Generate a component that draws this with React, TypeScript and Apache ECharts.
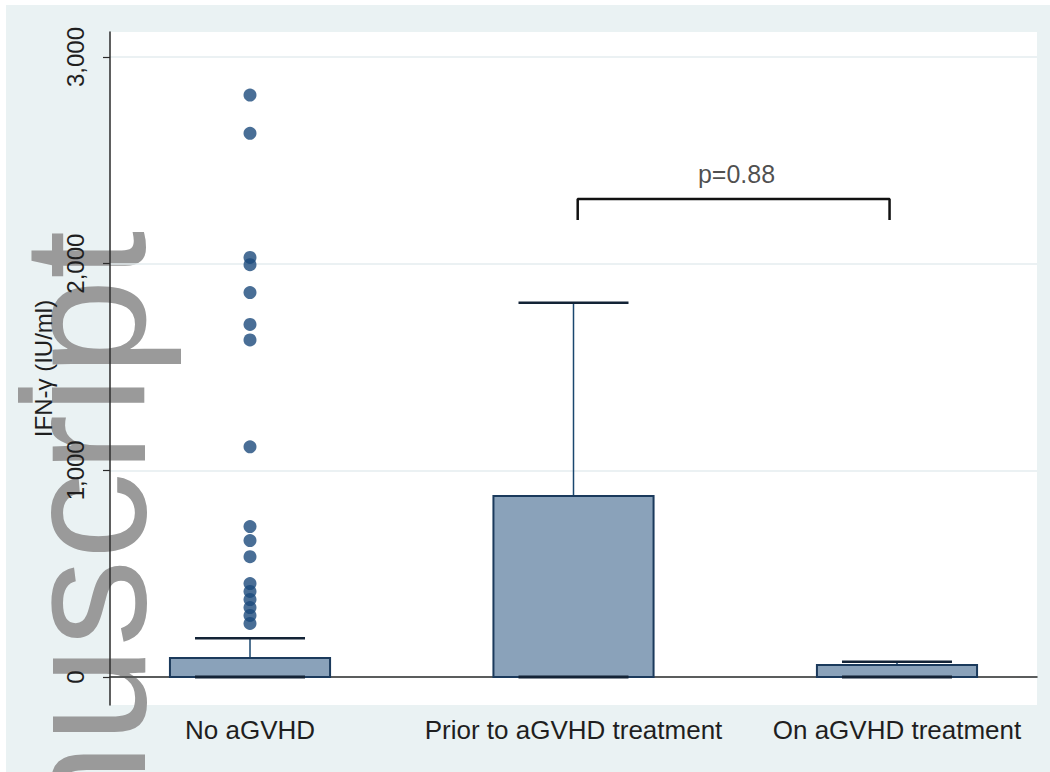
import React, { useEffect, useRef } from "react";
import * as echarts from "echarts";

const categories = ["No aGVHD", "Prior to aGVHD treatment", "On aGVHD treatment"];
const categoryPositions = [1, 2, 3];
const boxMin = [0, 0, 0];
const boxQ1 = [0, 0, 0];
const boxMedian = [0, 0, 0];
const boxQ3 = [92, 876, 58];
const boxUpper = [187, 1811, 74];
const outliersNoAGVHD = [2816, 2631, 2030, 1995, 1860, 1706, 1631, 1114, 728, 660, 582, 452, 414, 375, 336, 298, 259];
const yTicks = [0, 1000, 2000, 3000];
const bracketX = [2.013, 2.977];
const bracketY = [2211, 2313];
const pLabel = "p=0.88";
const pLabelPos = [2.504, 2434];
const yTitle = "IFN-γ (IU/ml)";
const watermark = "nuscript";

const FONT = '"Liberation Sans", Arial, Helvetica, sans-serif';
const GRID = { left: 110, top: 32, right: 13, bottom: 67 };

export default function App() {
  const ref = useRef<HTMLDivElement>(null);
  useEffect(() => {
    if (!ref.current) return;
    const chart = echarts.init(ref.current, null, { renderer: "svg" });
    const boxData = categoryPositions.map((x, i) => [x, boxMin[i], boxQ1[i], boxMedian[i], boxQ3[i], boxUpper[i]]);
    const option: any = {
      animation: false,
      backgroundColor: "#ffffff",
      graphic: [
        { type: "rect", z: -20, silent: true, shape: { x: 6, y: 5, width: 1044, height: 767 }, style: { fill: "#eaf2f3" } },
        { type: "rect", z: -19, silent: true, shape: { x: GRID.left, y: GRID.top, width: 1050 - GRID.left - GRID.right, height: 772 - GRID.top - GRID.bottom }, style: { fill: "#ffffff" } },
        {
          type: "text", z: -5, silent: true, x: 84, y: 840, rotation: Math.PI / 2,
          style: { text: watermark, fontSize: 174, fontFamily: FONT, fill: "#9a9a9a", align: "left", verticalAlign: "middle" },
        },
      ],
      grid: { ...GRID, outerBoundsMode: "none", containLabel: false },
      xAxis: {
        type: "value",
        min: 0.5672,
        max: 3.4328,
        axisLine: { show: true, lineStyle: { color: "#2b2b2b", width: 1.5 } },
        axisTick: { show: false },
        splitLine: { show: false },
        axisLabel: {
          customValues: categoryPositions,
          formatter: (v: number) => categories[Math.round(v) - 1] ?? "",
          fontSize: 26, fontFamily: FONT, color: "#1f1f1f", margin: 12,
        },
      },
      yAxis: {
        type: "value",
        min: -135.5,
        max: 3121,
        name: yTitle,
        nameLocation: "middle",
        nameRotate: 90,
        nameGap: 52,
        nameTextStyle: { fontSize: 24, fontFamily: FONT, color: "#1f1f1f" },
        axisLine: { show: true, lineStyle: { color: "#2b2b2b", width: 1.5 } },
        axisTick: { show: true, customValues: yTicks, length: 7, lineStyle: { color: "#2b2b2b", width: 1.2 } },
        splitLine: { show: true, lineStyle: { color: "#e4ecef", width: 1.5 } },
        axisLabel: {
          customValues: yTicks,
          rotate: 90,
          formatter: (v: number) => v.toLocaleString("en-US"),
          fontSize: 24, fontFamily: FONT, color: "#1f1f1f", margin: 23,
        },
      },
      series: [
        {
          type: "custom",
          data: boxData,
          z: 3,
          renderItem: (params: any, api: any) => {
            const x = api.value(0);
            const cx = api.coord([x, 0])[0];
            const yMin = api.coord([x, api.value(1)])[1];
            const yQ1 = api.coord([x, api.value(2)])[1];
            const yMed = api.coord([x, api.value(3)])[1];
            const yQ3 = api.coord([x, api.value(4)])[1];
            const yMax = api.coord([x, api.value(5)])[1];
            const halfBox = api.size([0.495, 0])[0] / 2;
            const halfCap = api.size([0.34, 0])[0] / 2;
            return {
              type: "group",
              children: [
                { type: "line", shape: { x1: cx, y1: yQ3, x2: cx, y2: yMax }, style: { stroke: "#1a476f", lineWidth: 1.5 } },
                { type: "line", shape: { x1: cx - halfCap, y1: yMax, x2: cx + halfCap, y2: yMax }, style: { stroke: "#132336", lineWidth: 2.5 } },
                { type: "rect", shape: { x: cx - halfBox, y: yQ3, width: halfBox * 2, height: yQ1 - yQ3 }, style: { fill: "#8aa2ba", stroke: "#1b3a5c", lineWidth: 2 } },
                { type: "line", shape: { x1: cx - halfBox, y1: yMed, x2: cx + halfBox, y2: yMed }, style: { stroke: "#1b3a5c", lineWidth: 2 } },
                { type: "line", shape: { x1: cx - halfCap, y1: yMin, x2: cx + halfCap, y2: yMin }, style: { stroke: "#132336", lineWidth: 3 } },
              ],
            };
          },
        },
        {
          type: "scatter",
          z: 4,
          symbol: "circle",
          symbolSize: 13,
          itemStyle: { color: "#1c4a7c" },
          data: outliersNoAGVHD.map((v) => [categoryPositions[0], v]),
        },
        {
          type: "line",
          z: 4,
          symbol: "none",
          lineStyle: { color: "#111111", width: 2.5 },
          data: [
            [bracketX[0], bracketY[0]],
            [bracketX[0], bracketY[1]],
            [bracketX[1], bracketY[1]],
            [bracketX[1], bracketY[0]],
          ],
        },
        {
          type: "scatter",
          z: 4,
          symbolSize: 0,
          data: [pLabelPos],
          label: { show: true, position: "inside", formatter: pLabel, fontSize: 25, fontFamily: FONT, color: "#1f1f1f" },
        },
      ],
    };
    chart.setOption(option);
    return () => chart.dispose();
  }, []);
  return <div ref={ref} style={{ position: "fixed", left: 0, top: 0, width: 1050, height: 772 }} />;
}
